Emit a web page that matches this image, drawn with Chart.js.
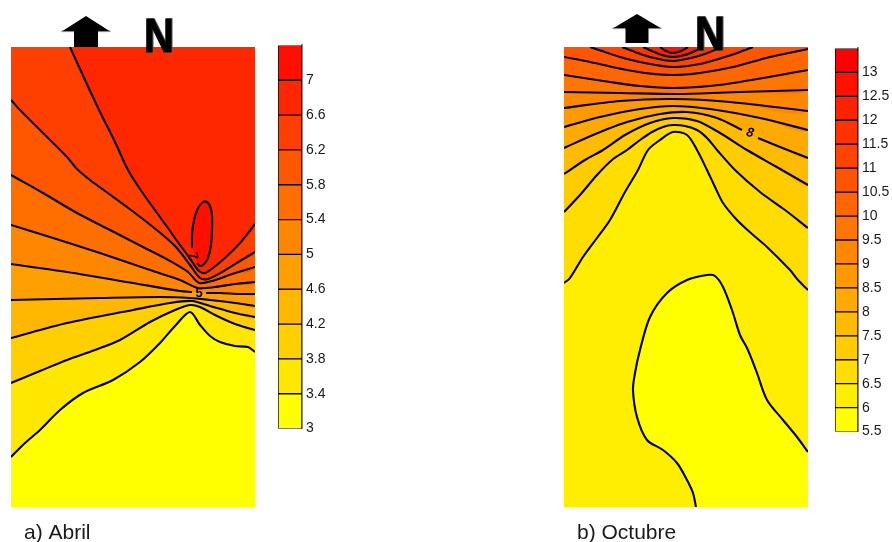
<!DOCTYPE html>
<html>
<head>
<meta charset="utf-8">
<script src="https://cdn.jsdelivr.net/npm/chart.js@4/dist/chart.umd.min.js"></script>
<style>
  html, body { margin: 0; padding: 0; background: #ffffff; }
  #page { position: relative; width: 892px; height: 542px; overflow: hidden; }
  #page canvas { position: absolute; }
</style>
</head>
<body>
<div id="page">
  <canvas id="mapAbril" width="446" height="542" style="left:0;top:0"></canvas>
  <canvas id="mapOctubre" width="446" height="542" style="left:446px;top:0"></canvas>
  <canvas id="barAbril" width="70" height="408" style="left:278px;top:33px"></canvas>
  <canvas id="barOctubre" width="57" height="408" style="left:835px;top:36px"></canvas>
</div>
<script>
// ---------- Abril ----------
const abrilLevels = [3, 3.4, 3.8, 4.2, 4.6, 5, 5.4, 5.8, 6.2, 6.6, 7, 7.4];
const abrilColors = ['#ffff00', '#ffe700', '#ffcf00', '#ffb700', '#ff9f00', '#ff8700',
                     '#ff6f00', '#ff5700', '#ff3f00', '#ff2700', '#ff0f00'];
const abrilTicks = ['3', '3.4', '3.8', '4.2', '4.6', '5', '5.4', '5.8', '6.2', '6.6', '7'];

// isolines, [x, y] with y measured down from the north edge; null = break for a label
const abril34 = [[0,410],[14,396],[29,383],[49,363],[72,346],[102,333],[129,315],[149,296],[164,279],[179,265],[189,278],[199,289],[209,295],[224,299],[237,300],[244,305]];
const abril38 = [[0,336],[29,324],[56,313],[84,303],[109,293],[139,275],[164,263],[179,258],[189,260],[204,268],[224,277],[244,283]];
const abril42 = [[0,291],[56,276],[122,263],[159,256],[181,254],[199,259],[224,266],[244,270]];
const abril46 = [[0,253],[89,251],[149,250],[179,251],[199,253],[224,256],[244,259]];
const abril50 = [[0,217],[56,225],[122,236],[169,244],[181,245],null,[195,246],[209,246],[229,247],[244,247]];
const abril54 = [[0,178],[39,190],[89,206],[139,223],[169,233],[187,241],[204,240],[224,237],[244,235]];
const abril58 = [[0,128],[32,146],[66,166],[99,183],[132,200],[159,214],[177,225],[188,236],[201,234],[221,227],[244,220]];
const abril62 = [[0,53],[9,63],[32,86],[56,110],[66,122],[79,133],[94,144],[116,160],[142,180],[164,199],[179,218],[189,231],[197,232],[211,225],[229,214],[244,205]];
const abril66 = [[59,0],[74,33],[89,65],[104,95],[117,123],[131,145],[146,166],[157,181],[166,194],[175,206],[182,216],[188,224],[194,226],[202,221],[215,210],[229,196],[244,177]];
// closed isoline, opened where its value label sits
const abril70 = [[186,216],[189,219],[193,217],[197,211],[200,198],[201,183],[201,168],[199,159],[196,155],[192,155],[187,161],[183,173],[181,188],[181,201]];

// ---------- Octubre ----------
const octubreLevels = [5.5, 6, 6.5, 7, 7.5, 8, 8.5, 9, 9.5, 10, 10.5, 11, 11.5, 12, 12.5, 13, 13.5];
const octubreColors = ['#ffff00', '#ffee00', '#ffdd00', '#ffcc00', '#ffbb00', '#ffaa00', '#ff9900', '#ff8800',
                       '#ff7700', '#ff6600', '#ff5500', '#ff4400', '#ff3300', '#ff2200', '#ff1100', '#ff0000'];
const octubreTicks = ['5.5', '6', '6.5', '7', '7.5', '8', '8.5', '9', '9.5', '10', '10.5', '11', '11.5', '12', '12.5', '13'];

const octubre60 = [[132,460],[129,446],[123,433],[113,416],[99,403],[83,393],[73,370],[69,343],[71,326],[76,303],[86,270],[103,246],[123,233],[143,228],[151,229],[159,240],[168,263],[176,288],[183,301],[188,313],[193,326],[203,353],[219,373],[233,390],[244,405]];
const octubre65 = [[0,236],[6,231],[19,210],[33,191],[46,173],[61,145],[74,123],[84,103],[96,93],[109,85],[123,88],[133,103],[143,123],[151,140],[159,156],[173,173],[188,187],[203,200],[226,223],[234,233],[244,243]];
const octubre70 = [[0,165],[16,148],[33,128],[48,113],[63,103],[76,93],[88,85],[99,80],[109,78],[121,79],[133,83],[143,91],[153,103],[171,123],[196,145],[221,163],[244,181]];
const octubre75 = [[0,127],[21,113],[39,103],[61,88],[86,76],[109,71],[133,74],[156,86],[183,103],[211,119],[244,138]];
const octubre80 = [[0,101],[29,88],[63,75],[96,67],[123,65],[153,71],[178,83],null,[194,91],[216,100],[244,111]];
const octubre85 = [[0,80],[36,70],[76,62],[109,59],[146,62],[196,71],[244,83]];
const octubre90 = [[0,61],[56,54],[109,52],[166,55],[244,64]];
const octubre95 = [[0,45],[56,46],[116,47],[176,45],[244,43]];
const octubre100 = [[0,28],[46,35],[76,39],[109,41],[146,39],[176,35],[244,23]];
const octubre105 = [[0,10],[26,15],[53,21],[81,26],[109,28],[136,26],[169,20],[206,10],[244,2]];
const octubre110 = [[26,0],[41,5],[56,10],[81,16],[109,20],[136,17],[161,10],[176,5],[189,0]];
const octubre115 = [[58,0],[71,5],[86,10],[109,14],[131,10],[146,5],[158,0]];
const octubre120 = [[79,0],[88,4],[98,8],[109,10],[121,8],[131,4],[138,0]];
const octubre125 = [[96,0],[102,4],[109,6],[117,4],[124,0]];

// which plot corners close the region lying above each isoline
const abrilContours = [
  {level: 3.4, line: abril34, close: ['tr', 'tl']},
  {level: 3.8, line: abril38, close: ['tr', 'tl']},
  {level: 4.2, line: abril42, close: ['tr', 'tl']},
  {level: 4.6, line: abril46, close: ['tr', 'tl']},
  {level: 5.0, line: abril50, close: ['tr', 'tl']},
  {level: 5.4, line: abril54, close: ['tr', 'tl']},
  {level: 5.8, line: abril58, close: ['tr', 'tl']},
  {level: 6.2, line: abril62, close: ['tr', 'tl']},
  {level: 6.6, line: abril66, close: ['tr']},
  {level: 7.0, line: abril70, close: []}
];
const octubreContours = [
  {level: 6.0, line: octubre60, close: ['tr', 'tl', 'bl']},
  {level: 6.5, line: octubre65, close: ['tr', 'tl']},
  {level: 7.0, line: octubre70, close: ['tr', 'tl']},
  {level: 7.5, line: octubre75, close: ['tr', 'tl']},
  {level: 8.0, line: octubre80, close: ['tr', 'tl']},
  {level: 8.5, line: octubre85, close: ['tr', 'tl']},
  {level: 9.0, line: octubre90, close: ['tr', 'tl']},
  {level: 9.5, line: octubre95, close: ['tr', 'tl']},
  {level: 10.0, line: octubre100, close: ['tr', 'tl']},
  {level: 10.5, line: octubre105, close: ['tr', 'tl']},
  {level: 11.0, line: octubre110, close: []},
  {level: 11.5, line: octubre115, close: []},
  {level: 12.0, line: octubre120, close: []},
  {level: 12.5, line: octubre125, close: []}
];

const FONT = '"Liberation Sans", Arial, Helvetica, sans-serif';
Chart.defaults.font.family = FONT;
const TENSION = 0.3;

// north arrow, big N, caption and isoline value labels
const decorPlugin = {
  id: 'decor',
  afterDraw(chart, args, o) {
    const ctx = chart.ctx;
    const ca = chart.chartArea;
    const xs = chart.scales.x, ys = chart.scales.y;
    ctx.save();
    // arrow
    const cx = ca.left + o.arrow.dx;
    ctx.fillStyle = '#8a8a8a';
    ctx.fillRect(cx - o.arrow.head - 1, o.arrow.base - 0.5, 2 * o.arrow.head + 2, 1.6);
    ctx.fillStyle = '#000000';
    ctx.beginPath();
    ctx.moveTo(cx, o.arrow.tip);
    ctx.lineTo(cx + o.arrow.head, o.arrow.base);
    ctx.lineTo(cx + o.arrow.shaft, o.arrow.base);
    ctx.lineTo(cx + o.arrow.shaft, o.arrow.foot);
    ctx.lineTo(cx - o.arrow.shaft, o.arrow.foot);
    ctx.lineTo(cx - o.arrow.shaft, o.arrow.base);
    ctx.lineTo(cx - o.arrow.head, o.arrow.base);
    ctx.closePath();
    ctx.fill();
    // N
    ctx.save();
    ctx.translate(ca.left + o.north.dx, o.north.baseline);
    ctx.scale(1.12, 1.28);
    ctx.font = 'bold 37px ' + FONT;
    ctx.textAlign = 'center';
    ctx.textBaseline = 'alphabetic';
    ctx.lineJoin = 'miter';
    ctx.strokeStyle = '#666666';
    ctx.lineWidth = 1.2;
    ctx.strokeText('N', 0.6, 0.3);
    ctx.fillStyle = '#000000';
    ctx.strokeStyle = '#000000';
    ctx.lineWidth = 0.9;
    ctx.fillText('N', 0, 0);
    ctx.strokeText('N', 0, 0);
    ctx.restore();
    // caption
    ctx.font = '21px ' + FONT;
    ctx.fillStyle = '#1a1a1a';
    ctx.textAlign = 'left';
    ctx.textBaseline = 'alphabetic';
    ctx.fillText(o.caption.text, o.caption.x, o.caption.y);
    // isoline labels
    ctx.fillStyle = '#000000';
    ctx.textAlign = 'center';
    ctx.textBaseline = 'middle';
    for (const lb of o.labels) {
      ctx.save();
      ctx.translate(xs.getPixelForValue(lb.at[0]), ys.getPixelForValue(lb.at[1]));
      ctx.rotate(lb.angle * Math.PI / 180);
      ctx.font = (lb.italic ? 'italic ' : '') + 'bold 13px ' + FONT;
      ctx.fillText(String(lb.level), 0, 0);
      ctx.restore();
    }
    ctx.restore();
  }
};

function mapDatasets(contours, colors, w, h) {
  const corners = {tl: {x: 0, y: 0}, tr: {x: w, y: 0}, bl: {x: 0, y: h}, br: {x: w, y: h}};
  const common = {showLine: true, pointRadius: 0, pointHoverRadius: 0, hitRadius: 0};
  const sets = [];
  // lowest band covers the whole map
  sets.push(Object.assign({}, common, {
    data: [corners.tl, corners.tr, corners.br, corners.bl], tension: 0,
    fill: 'shape', backgroundColor: colors[0], borderWidth: 0, order: 1000
  }));
  // each isoline adds the region above it in the next band colour
  contours.forEach((c, i) => {
    const pts = c.line.filter(p => p).map(p => ({x: p[0], y: p[1]}));
    c.close.forEach(k => pts.push(corners[k]));
    sets.push(Object.assign({}, common, {
      data: pts, tension: TENSION, fill: 'shape', backgroundColor: colors[i + 1],
      borderWidth: 0, order: 999 - i
    }));
  });
  // the isolines on top
  contours.forEach(c => {
    sets.push(Object.assign({}, common, {
      data: c.line.map(p => p ? {x: p[0], y: p[1]} : {x: NaN, y: NaN}),
      tension: TENSION, fill: false, borderColor: '#000000', borderWidth: 2.1, spanGaps: false,
      borderJoinStyle: 'round', borderCapStyle: 'butt', order: 0
    }));
  });
  return sets;
}

function makeMap(id, contours, colors, w, h, padding, decor) {
  return new Chart(document.getElementById(id), {
    type: 'scatter',
    data: {datasets: mapDatasets(contours, colors, w, h)},
    options: {
      responsive: false, animation: false, events: [],
      layout: {padding},
      scales: {
        x: {type: 'linear', min: 0, max: w, display: false},
        y: {type: 'linear', min: 0, max: h, reverse: true, display: false}
      },
      plugins: {legend: {display: false}, tooltip: {enabled: false}, decor}
    },
    plugins: [decorPlugin]
  });
}

function makeColorbar(id, levels, colors, ticks, axisWidth) {
  const datasets = colors.map((c, i) => ({
    data: [[levels[i], levels[i + 1]]],
    backgroundColor: c, borderColor: '#000000', borderWidth: 1, borderSkipped: false,
    grouped: false, barPercentage: 1, categoryPercentage: 1
  }));
  return new Chart(document.getElementById(id), {
    type: 'bar',
    data: {labels: [''], datasets},
    options: {
      responsive: false, animation: false, events: [],
      layout: {padding: {top: 10, bottom: 10, left: 0, right: 0}},
      plugins: {legend: {display: false}, tooltip: {enabled: false}},
      scales: {
        x: {display: false},
        y: {
          position: 'right', min: levels[0], max: levels[levels.length - 1],
          grid: {display: false, drawTicks: false},
          border: {display: true, color: '#8a8a8a', width: 2},
          ticks: {
            padding: 4, autoSkip: false, color: '#1a1a1a', font: {size: 14, family: FONT},
            callback: (v, i) => ticks[i]
          },
          afterBuildTicks: s => { s.ticks = ticks.map(t => ({value: Number(t)})); },
          afterFit: s => { s.width = axisWidth; }
        }
      }
    }
  });
}

makeMap('mapAbril', abrilContours, abrilColors, 244, 460,
  {left: 11, top: 47, right: 191, bottom: 35},
  {
    arrow: {dx: 75, tip: 16, base: 31, foot: 47, head: 23.5, shaft: 12},
    north: {dx: 148, baseline: 52},
    caption: {text: 'a) Abril', x: 24, y: 539},
    labels: [{level: 7, at: [182, 209], angle: 80}, {level: 5, at: [188, 246], angle: 0}]
  });

makeMap('mapOctubre', octubreContours, octubreColors, 244, 460,
  {left: 118, top: 47, right: 84, bottom: 35},
  {
    arrow: {dx: 73, tip: 14, base: 28, foot: 43, head: 23.5, shaft: 11.5},
    north: {dx: 146, baseline: 50},
    caption: {text: 'b) Octubre', x: 131, y: 539},
    labels: [{level: 8, at: [186, 86], angle: 12, italic: true}]
  });

makeColorbar('barAbril', abrilLevels, abrilColors, abrilTicks, 46);
makeColorbar('barOctubre', octubreLevels, octubreColors, octubreTicks, 34);
</script>
</body>
</html>
